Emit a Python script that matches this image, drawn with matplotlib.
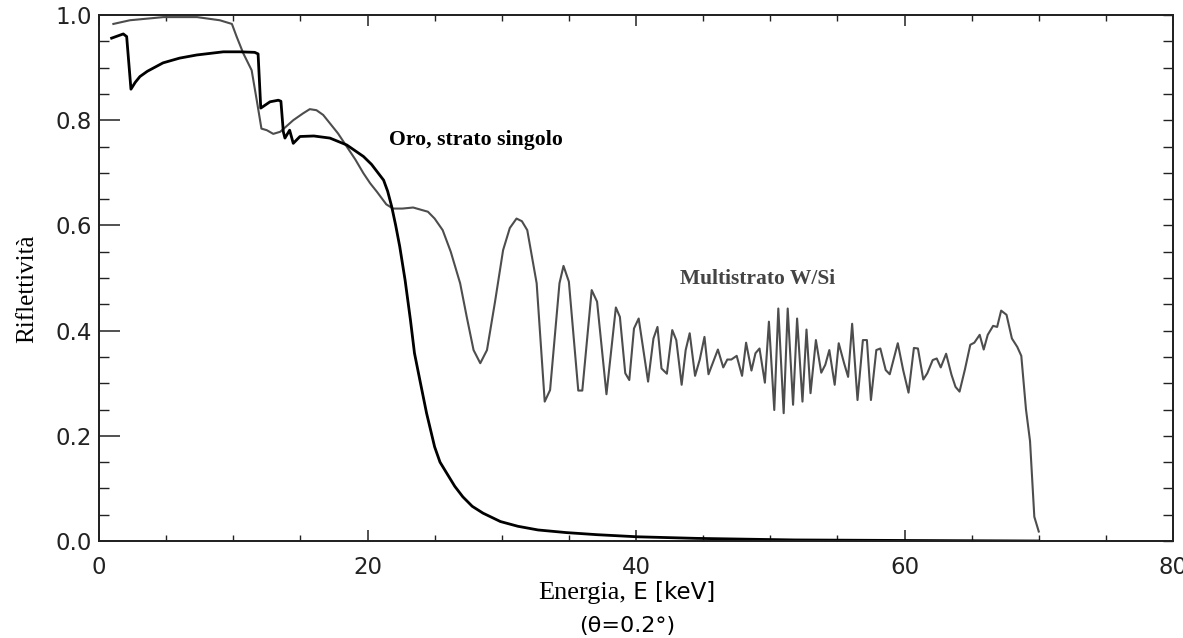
import matplotlib
matplotlib.use("Agg")
import matplotlib.pyplot as plt
from matplotlib.ticker import MultipleLocator

# ---------------- data ----------------
energy_gold = [0.94, 1.81, 2.06, 2.38, 2.7, 3.05, 3.6, 4.77, 6.0, 7.28, 9.26, 10.5,
               11.6, 11.85, 12.05, 12.74, 13.36, 13.55, 13.73, 13.85, 14.2, 14.47,
               14.97, 16.0, 17.2, 18.45, 19.7, 20.3, 20.9, 21.2, 21.5, 21.8, 22.1, 22.4,
               22.8, 23.2, 23.5, 23.9, 24.4, 25.0, 25.4, 25.9, 26.5, 27.1, 27.8, 28.6,
               29.9, 31.2, 32.7, 34.8, 37.1, 40.1, 44.5, 51.8, 60.0, 70.0]
refl_gold = [0.956, 0.964, 0.959, 0.859, 0.872, 0.883, 0.893, 0.909, 0.918, 0.924, 0.930, 0.930,
             0.929, 0.926, 0.823, 0.835, 0.838, 0.836, 0.778, 0.766, 0.781, 0.756,
             0.769, 0.770, 0.766, 0.753, 0.731, 0.716, 0.696, 0.686, 0.665, 0.636, 0.600, 0.560,
             0.496, 0.420, 0.357, 0.306, 0.243, 0.179, 0.150, 0.129, 0.104, 0.084, 0.066, 0.053,
             0.037, 0.028, 0.021, 0.016, 0.012, 0.008, 0.005, 0.002, 0.001, 0.0]

energy_ml = [1.07, 2.3, 4.8, 7.3, 9.0, 9.9, 10.25, 10.75, 11.37, 11.75, 12.1, 12.5, 12.98,
             13.5, 14.47, 15.2, 15.7, 16.2, 16.7, 17.2, 17.8, 18.45, 19.1, 19.7, 20.2, 20.7,
             21.4, 21.9, 22.6, 23.4, 24.5, 25.0, 25.6, 26.2, 26.9, 27.4, 27.9, 28.4, 28.9,
             29.5, 30.1, 30.6, 31.1, 31.5, 31.9, 32.6, 33.2, 33.6, 34.3,
             34.6, 35.0, 35.7, 36.0, 36.7, 37.1, 37.8, 38.5, 38.8, 39.2, 39.5, 39.85,
             40.2, 40.9, 41.3, 41.6, 41.9, 42.3, 42.7, 43.0, 43.4, 43.7, 44.0, 44.4,
             44.75, 45.1, 45.4, 46.1, 46.5, 46.8, 47.1, 47.5, 47.9, 48.2, 48.6, 48.9,
             49.2, 49.6, 49.9, 50.3, 50.6, 51.0, 51.3, 51.7, 52.0, 52.4, 52.7, 53.0,
             53.4, 53.8, 54.1, 54.4, 54.8, 55.1, 55.5, 55.8, 56.1, 56.5, 56.9, 57.2,
             57.5, 57.9, 58.2, 58.6, 58.9, 59.5, 59.9, 60.3, 60.7, 61.0, 61.4, 61.7,
             62.1, 62.4, 62.7, 63.1, 63.5, 63.8, 64.1, 64.5, 64.9, 65.2, 65.6, 65.9,
             66.2, 66.6, 66.9, 67.2, 67.6, 68.0, 68.4, 68.7, 69.05, 69.35, 69.67, 70.0]
refl_ml = [0.983, 0.990, 0.996, 0.996, 0.990, 0.983, 0.959, 0.927, 0.895, 0.838, 0.784, 0.781, 0.774,
           0.778, 0.800, 0.813, 0.821, 0.819, 0.810, 0.794, 0.775, 0.750, 0.725, 0.699, 0.680, 0.664,
           0.640, 0.632, 0.632, 0.634, 0.626, 0.613, 0.591, 0.550, 0.490, 0.425, 0.363, 0.338, 0.363,
           0.455, 0.553, 0.595, 0.613, 0.608, 0.591, 0.490, 0.265, 0.287, 0.490,
           0.523, 0.493, 0.286, 0.286, 0.477, 0.455, 0.279, 0.444, 0.426, 0.319, 0.306, 0.404,
           0.423, 0.303, 0.385, 0.407, 0.328, 0.318, 0.401, 0.382, 0.297, 0.363, 0.395, 0.314,
           0.345, 0.388, 0.317, 0.364, 0.330, 0.345, 0.345, 0.352, 0.314, 0.377, 0.324, 0.357,
           0.366, 0.301, 0.417, 0.249, 0.442, 0.243, 0.442, 0.259, 0.423, 0.265, 0.402, 0.281,
           0.382, 0.320, 0.335, 0.363, 0.297, 0.376, 0.338, 0.312, 0.413, 0.268, 0.382, 0.382,
           0.268, 0.363, 0.366, 0.325, 0.317, 0.376, 0.325, 0.282, 0.367, 0.366, 0.307, 0.319,
           0.344, 0.347, 0.330, 0.356, 0.316, 0.293, 0.284, 0.326, 0.373, 0.377, 0.392, 0.364,
           0.392, 0.409, 0.407, 0.438, 0.430, 0.385, 0.369, 0.352, 0.250, 0.190, 0.046, 0.018]

x_ticks = [0, 20, 40, 60, 80]
y_ticks = [0.0, 0.2, 0.4, 0.6, 0.8, 1.0]
label_gold = "Oro, strato singolo"
label_ml = "Multistrato W/Si"
ylabel_text = "Riflettività"
xlabel_serif = "Energia,"
xlabel_sans = " E [keV]"
xlabel_angle = "(θ=0.2°)"

# ---------------- figure ----------------
W, H = 1183, 638
fig = plt.figure(figsize=(W / 100, H / 100), dpi=100)
ax = fig.add_axes([99 / W, 97 / H, 1074 / W, 526 / H])

ax.plot(energy_ml, refl_ml, color="#4d4d4d", lw=1.5)
ax.plot(energy_gold, refl_gold, color="black", lw=2.0)

ax.set_xlim(0, 80)
ax.set_ylim(0, 1)

sans = ["DejaVu Sans"]
serif = ["Liberation Serif", "DejaVu Serif"]

ax.set_xticks(x_ticks, labels=[str(v) for v in x_ticks])
ax.set_yticks(y_ticks, labels=[f"{v:.1f}" for v in y_ticks])
ax.xaxis.set_minor_locator(MultipleLocator(5))
ax.yaxis.set_minor_locator(MultipleLocator(0.05))
for lab in ax.get_xticklabels() + ax.get_yticklabels():
    lab.set_family(sans)
    lab.set_fontsize(16.5)

ax.tick_params(axis="x", which="major", direction="in", length=8, width=1.1,
               top=True, bottom=True, pad=11, colors="#222222")
ax.tick_params(axis="x", which="minor", direction="in", length=4, width=1.0,
               top=True, bottom=True, colors="#222222")
ax.tick_params(axis="y", which="major", direction="in", length=15, width=1.1,
               left=True, right=False, pad=5, colors="#222222")
ax.tick_params(axis="y", which="minor", direction="in", length=7.5, width=1.0,
               left=True, right=False, colors="#222222")

axr = ax.twinx()
axr.set_ylim(0, 1)
axr.set_yticks(y_ticks)
axr.yaxis.set_minor_locator(MultipleLocator(0.05))
axr.tick_params(axis="y", which="both", direction="in", length=7.5, width=1.0,
                labelright=False, colors="#222222")

for a in (ax, axr):
    for sp in a.spines.values():
        sp.set_linewidth(1.3)
        sp.set_color("#222222")

ax.text(21.6, 0.762, label_gold, family=serif, fontweight="bold", fontsize=15.7,
        ha="left", va="center", color="black")
ax.text(43.3, 0.498, label_ml, family=serif, fontweight="bold", fontsize=15.5,
        ha="left", va="center", color="#444444")

ax.set_ylabel(ylabel_text, family=serif, fontsize=18)
ax.yaxis.set_label_coords(-0.057, 0.48)

xl_base = -0.110
t1 = ax.text(0.4088, xl_base, xlabel_serif, transform=ax.transAxes, family=serif,
             fontsize=19, ha="left", va="baseline")
fig.canvas.draw()
bb = t1.get_window_extent()
x_after = ax.transAxes.inverted().transform((bb.x1, bb.y0))[0]
ax.text(x_after, xl_base, xlabel_sans, transform=ax.transAxes, family=sans,
        fontsize=16.5, ha="left", va="baseline")
ax.text(0.4916, -0.162, xlabel_angle, transform=ax.transAxes, family=sans,
        fontsize=16, ha="center", va="center")

fig.savefig("out.png", dpi=100)
